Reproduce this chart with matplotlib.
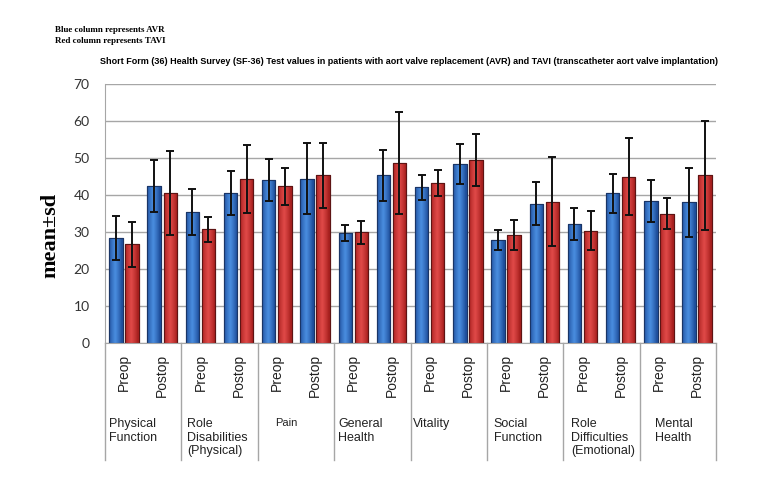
import matplotlib.pyplot as plt
import matplotlib.transforms as mtransforms
import numpy as np

# SF-36 domains and the two time points
domains = ['Physical\nFunction', 'Role\nDisabilities\n(Physical)', 'Pain', 'General\nHealth',
           'Vitality', 'Social\nFunction', 'Role\nDifficulties\n(Emotional)', 'Mental\nHealth']
times = ['Preop', 'Postop']

# mean and sd, order: domain1 preop, domain1 postop, domain2 preop, ...
avr_mean = [28.5, 42.5, 35.5, 40.6, 44.1, 44.4, 29.8, 45.3,
            42.1, 48.4, 27.9, 37.6, 32.2, 40.5, 38.4, 38.0]
avr_sd = [5.9, 7.1, 6.2, 5.9, 5.7, 9.6, 2.1, 6.8,
          3.4, 5.4, 2.7, 5.8, 4.4, 5.3, 5.8, 9.3]
tavi_mean = [26.7, 40.5, 30.8, 44.4, 42.4, 45.3, 29.9, 48.7,
             43.3, 49.5, 29.2, 38.2, 30.4, 45.0, 35.0, 45.3]
tavi_sd = [6.0, 11.3, 3.4, 9.2, 5.0, 8.9, 3.1, 13.8,
           3.5, 7.1, 4.1, 12.0, 5.2, 10.3, 4.2, 14.7]

# where each domain label starts inside its block (data units)
label_dx = [0.1, 0.15, 0.45, 0.1, 0.06, 0.18, 0.2, 0.4]

fig = plt.figure(figsize=(7.71, 4.80), dpi=100)
ax = fig.add_axes([0.136, 0.285, 0.793, 0.54])

x = np.arange(len(avr_mean))
w = 0.35
off = 0.21


def grad_bars(xs, heights, light, dark, edge):
    bars = ax.bar(xs, heights, w, color=dark, edgecolor=edge, linewidth=0.8, zorder=2)
    # horizontal shading to mimic the 3D look
    t = np.linspace(0, 1, 64)
    prof = np.clip(1 - np.abs(t - 0.45) * 2.2, 0, 1) ** 0.8
    c0 = np.array(plt.matplotlib.colors.to_rgb(dark))
    c1 = np.array(plt.matplotlib.colors.to_rgb(light))
    img = c0[None, None, :] + (c1 - c0)[None, None, :] * prof[None, :, None]
    for b in bars:
        im = ax.imshow(img, extent=[b.get_x(), b.get_x() + b.get_width(), 0, b.get_height()],
                       aspect='auto', zorder=2.1, interpolation='bilinear')
        im.set_clip_path(b)
    ax.bar(xs, heights, w, fill=False, edgecolor=edge, linewidth=0.8, zorder=2.2)
    return bars


grad_bars(x - off, avr_mean, '#4a8ee0', '#1f4f9c', '#1a3566')
grad_bars(x + off, tavi_mean, '#e04a48', '#a8201f', '#5e1414')

ax.errorbar(x - off, avr_mean, yerr=avr_sd, fmt='none', ecolor='#111111',
            elinewidth=1.4, capsize=3, capthick=1.4, zorder=3)
ax.errorbar(x + off, tavi_mean, yerr=tavi_sd, fmt='none', ecolor='#111111',
            elinewidth=1.4, capsize=3, capthick=1.4, zorder=3)

ax.set_xlim(-0.5, len(x) - 0.5)
ax.set_ylim(0, 70)
ax.set_yticks(range(0, 71, 10))
ax.yaxis.grid(True, color='#a6a6a6', linewidth=1)
ax.set_axisbelow(True)
for s in ['top', 'right']:
    ax.spines[s].set_visible(False)
for s in ['left', 'bottom']:
    ax.spines[s].set_color('#a6a6a6')
ax.tick_params(axis='y', length=0, pad=11, labelsize=10, labelcolor='#333333')
for lab in ax.get_yticklabels():
    lab.set_family('Lato')

ax.set_xticks(x)
ax.set_xticklabels(times * len(domains), rotation=90, fontsize=10,
                   family='Liberation Sans', color='#222222', va='top')
ax.tick_params(axis='x', length=0, pad=8)

# category separators and names below the axis
trans = mtransforms.blended_transform_factory(ax.transData, ax.transAxes)
for k in range(len(domains) + 1):
    ax.plot([2 * k - 0.5, 2 * k - 0.5], [0, -0.452], transform=trans,
            color='#a6a6a6', lw=1, clip_on=False)
for k, name in enumerate(domains):
    ax.text(2 * k - 0.5 + label_dx[k], -0.29, name, transform=trans,
            ha='left', va='top', fontsize=8 if name == 'Pain' else 9,
            family='Liberation Sans', color='#222222', linespacing=1.15)

fig.text(0.065, 0.51, 'mean\u00b1sd', rotation=90, ha='center', va='center',
         fontsize=16, fontweight='bold', family='Liberation Serif')
fig.text(0.531, 0.871, 'Short Form (36) Health Survey (SF-36) Test values in patients with '
         'aort valve replacement (AVR) and TAVI (transcatheter aort valve implantation)',
         ha='center', va='center', fontsize=6.5, fontweight='bold', family='Liberation Sans')
fig.text(0.071, 0.937, 'Blue column represents AVR', ha='left', va='center',
         fontsize=6.5, fontweight='bold', family='Liberation Serif')
fig.text(0.071, 0.914, 'Red column represents TAVI', ha='left', va='center',
         fontsize=6.5, fontweight='bold', family='Liberation Serif')

fig.savefig('out.png', dpi=100)
